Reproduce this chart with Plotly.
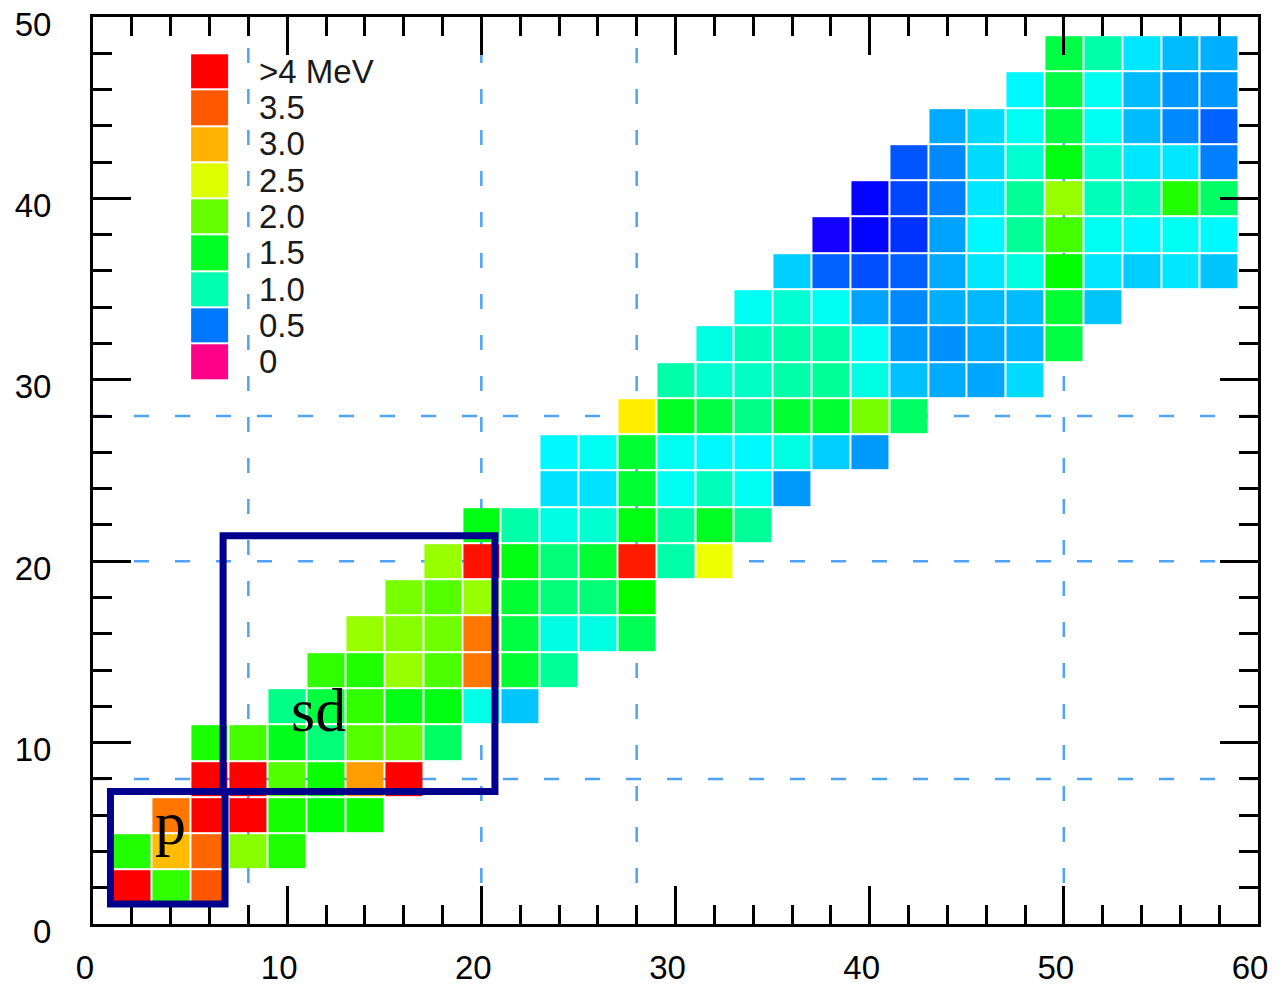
import colorsys

import numpy as np
import plotly.graph_objects as go

# Even-even nuclei: proton number Z of each row, neutron number N of the
# first filled cell in that row, and the energies (MeV) along the row (step 2 in N).
row_z = [2, 4, 6, 8, 10, 12, 14, 16, 18, 20, 22, 24,
         26, 28, 30, 32, 34, 36, 38, 40, 42, 44, 46, 48]
row_first_n = [2, 2, 4, 6, 6, 10, 12, 14, 16, 18, 20, 24,
               24, 28, 30, 32, 34, 36, 38, 40, 42, 44, 48, 50]
row_energy = [
    [4.6, 1.80, 3.52],
    [1.75, 2.96, 3.43, 2.14, 1.74],
    [3.33, 4.5, 4.3, 1.70, 1.60, 1.66],
    [4.9, 4.3, 1.92, 1.66, 3.12, 4.2],
    [1.72, 1.87, 1.52, 1.20, 1.94, 2.00, 1.26],
    [1.14, 1.40, 1.80, 1.55, 1.56, 0.87, 0.68],
    [1.80, 1.74, 2.21, 1.90, 3.33, 1.44, 1.08],
    [2.21, 2.14, 2.04, 3.33, 1.38, 0.88, 0.88, 1.32],
    [2.07, 1.94, 2.21, 1.44, 1.20, 1.20, 1.62],
    [2.21, 3.90, 1.56, 1.20, 1.44, 3.85, 1.02, 2.57],
    [1.56, 1.02, 0.88, 0.92, 1.56, 1.02, 1.50, 1.08],
    [0.75, 0.75, 1.44, 0.84, 0.97, 0.84, 0.58],
    [0.80, 0.84, 1.44, 0.84, 0.80, 0.80, 0.88, 0.70, 0.58],
    [2.73, 1.50, 1.38, 1.14, 1.44, 1.44, 2.07, 1.26],
    [1.02, 0.92, 0.95, 1.02, 1.08, 0.88, 0.67, 0.62, 0.61, 0.73],
    [0.88, 0.97, 1.02, 1.02, 0.84, 0.58, 0.56, 0.62, 0.64, 1.38],
    [0.84, 0.92, 0.84, 0.60, 0.54, 0.63, 0.65, 0.66, 1.44, 0.68],
    [0.70, 0.48, 0.46, 0.477, 0.62, 0.76, 0.88, 1.62, 0.76, 0.70, 0.76, 0.68],
    [0.36, 0.38, 0.43, 0.60, 0.80, 1.08, 1.87, 0.84, 0.80, 0.84, 0.80],
    [0.38, 0.45, 0.52, 0.76, 1.08, 2.21, 0.97, 0.97, 1.74, 1.26],
    [0.466, 0.54, 0.73, 0.92, 1.56, 0.92, 0.76, 0.76, 0.52],
    [0.62, 0.73, 0.84, 1.38, 0.84, 0.66, 0.54, 0.48],
    [0.80, 1.38, 0.84, 0.66, 0.57, 0.57],
    [1.38, 1.02, 0.76, 0.66, 0.63],
]

# Colour key
key_values = [0.0, 0.5, 1.0, 1.5, 2.0, 2.5, 3.0, 3.5, 4.0]
key_labels = ["0", "0.5", "1.0", "1.5", "2.0", "2.5", "3.0", "3.5", ">4 MeV"]

# Magic numbers marked by dashed lines
magic_numbers = [8, 20, 28, 50]

x_ticks = [0, 10, 20, 30, 40, 50, 60]
y_ticks = [0, 10, 20, 30, 40, 50]

# ---- rainbow colour scale: hue falls from magenta (0 MeV) to red (4 MeV)
key_hues = [328, 212, 161, 128, 96, 68, 42, 21, 0]
E_MIN, E_MAX = 0.0, 4.0
colorscale = []
for v in np.linspace(E_MIN, E_MAX, 161):
    h = float(np.interp(v, key_values, key_hues)) / 360.0
    r, g, b = colorsys.hsv_to_rgb(h, 1.0, 1.0)
    colorscale.append([(v - E_MIN) / (E_MAX - E_MIN),
                       f"rgb({round(r*255)},{round(g*255)},{round(b*255)})"])

# ---- build the N-Z grid
n_grid = list(range(2, 60, 2))
grid = []
for n0, energies in zip(row_first_n, row_energy):
    row = [None] * len(n_grid)
    start = n_grid.index(n0)
    for k, e in enumerate(energies):
        row[start + k] = e
    grid.append(row)

fig = go.Figure()

fig.add_trace(go.Heatmap(
    x=n_grid, y=row_z, z=grid,
    colorscale=colorscale, zmin=E_MIN, zmax=E_MAX,
    xgap=2, ygap=2, showscale=False, hoverongaps=False,
))

# key swatches placed as a one-column heatmap in the upper-left corner
key_y_edges = [30 + 2 * i for i in range(len(key_values) + 1)]
fig.add_trace(go.Heatmap(
    x=[5, 7], y=key_y_edges, z=[[v] for v in key_values],
    colorscale=colorscale, zmin=E_MIN, zmax=E_MAX,
    xgap=2, ygap=2, showscale=False,
))

shapes = []
dash_style = dict(color="#4fa3f7", width=2.5, dash="15px,26px")
for m in magic_numbers:
    if m < 60:
        shapes.append(dict(type="line", xref="x", yref="y", x0=m, x1=m, y0=0, y1=50,
                           line=dash_style, layer="below"))
    if m < 50:
        shapes.append(dict(type="line", xref="x", yref="y", x0=0, x1=60, y0=m, y1=m,
                           line=dash_style, layer="below"))

# p-shell and sd-shell regions
box_line = dict(color="#00008c", width=7)
shapes.append(dict(type="rect", xref="x", yref="y", x0=0.9, x1=6.8, y0=1.1, y1=7.3,
                   line=box_line, fillcolor="rgba(0,0,0,0)", layer="above"))
shapes.append(dict(type="rect", xref="x", yref="y", x0=6.7, x1=20.7, y0=7.3, y1=21.4,
                   line=box_line, fillcolor="rgba(0,0,0,0)", layer="above"))

annotations = []
serif = dict(family="Liberation Serif, Times New Roman, serif", size=62, color="black")
annotations.append(dict(x=4.0, y=5.55, xref="x", yref="y", text="p", showarrow=False,
                        font=serif, xanchor="center", yanchor="middle"))
annotations.append(dict(x=11.6, y=11.8, xref="x", yref="y", text="sd", showarrow=False,
                        font=serif, xanchor="center", yanchor="middle"))

sans = "Liberation Sans, Arial, Helvetica, sans-serif"
for i, lab in enumerate(key_labels):
    annotations.append(dict(x=8.45, y=31 + 2 * i, xref="x", yref="y", text=lab,
                            showarrow=False, xanchor="left", yanchor="middle",
                            font=dict(family=sans, size=33, color="#1a1a1a")))

axis_common = dict(
    ticks="inside", ticklen=38, tickwidth=3, tickcolor="black",
    showline=True, linewidth=3, linecolor="black", mirror="ticks",
    showgrid=False, zeroline=False, automargin=False,
    tickfont=dict(family=sans, size=33, color="black"),
)

fig.update_layout(
    width=1279, height=985,
    margin=dict(l=93, r=21, t=17, b=61),
    paper_bgcolor="white", plot_bgcolor="white",
    showlegend=False,
    shapes=shapes, annotations=annotations,
    xaxis=dict(range=[0, 60], tickvals=x_ticks, ticklabelstandoff=12, ticklabelshift=-8,
               minor=dict(dtick=2, tick0=0, ticks="inside", ticklen=19, tickwidth=3,
                          tickcolor="black", showgrid=False),
               **axis_common),
    yaxis=dict(range=[0, 50], tickvals=y_ticks, ticklabelstandoff=32, ticklabelshift=7,
               minor=dict(dtick=2, tick0=0, ticks="inside", ticklen=19, tickwidth=3,
                          tickcolor="black", showgrid=False),
               **axis_common),
)

fig.write_html("out.html")
